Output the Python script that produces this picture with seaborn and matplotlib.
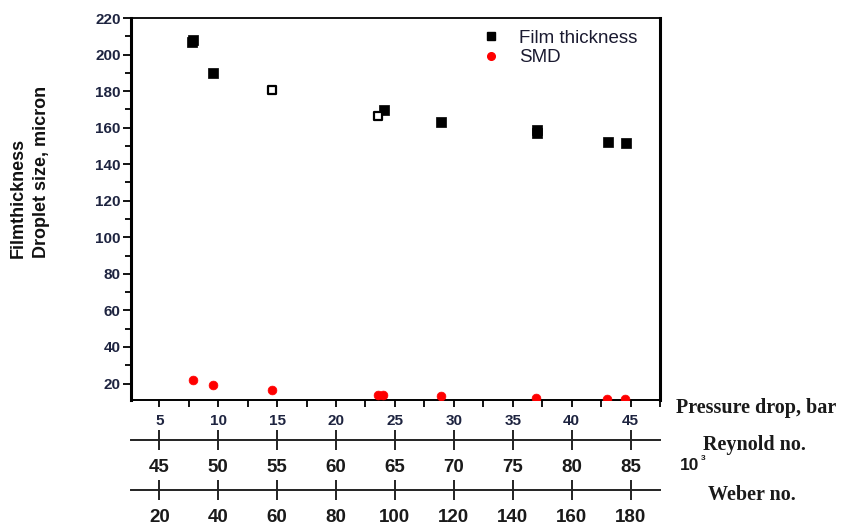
import matplotlib
matplotlib.use("Agg")
import matplotlib.pyplot as plt
from matplotlib.lines import Line2D
from matplotlib.ticker import MultipleLocator
import seaborn as sns
import pandas as pd

# ---- data ----
film_pressure = [7.8, 7.9, 9.6, 24.1, 28.9, 37.1, 37.1, 43.1, 44.6]
film_thickness = [207, 208, 190, 169.5, 163.3, 158.5, 157, 152.4, 151.7]
film_open_pressure = [14.6, 23.6]
film_open_thickness = [180.4, 166.4]
smd_pressure = [7.9, 9.6, 14.6, 23.6, 24.0, 28.9, 37.0, 43.0, 44.5]
smd_values = [22.1, 19.0, 16.7, 14.0, 14.0, 13.0, 12.1, 11.5, 11.3]

pressure_ticks = [5, 10, 15, 20, 25, 30, 35, 40, 45]
reynolds_ticks = [45, 50, 55, 60, 65, 70, 75, 80, 85]
weber_ticks = [20, 40, 60, 80, 100, 120, 140, 160, 180]
reynolds_offset = 40   # Re (x10^3) = pressure + 40
weber_factor = 4       # We = 4 * pressure
y_ticks = [20, 40, 60, 80, 100, 120, 140, 160, 180, 200, 220]

xlim = (2.6, 47.5)
ylim = (11, 220)

sns.set_theme(style="white")
plt.rcParams["font.family"] = ["Liberation Sans", "DejaVu Sans"]

W, H = 846, 527
fig = plt.figure(figsize=(W / 100, H / 100), dpi=100)

L, R, T, B = 131, 660, 18, 400
ax = fig.add_axes([L / W, 1 - B / H, (R - L) / W, (B - T) / H])

film_df = pd.DataFrame({"p": film_pressure, "t": film_thickness})
open_df = pd.DataFrame({"p": film_open_pressure, "t": film_open_thickness})
smd_df = pd.DataFrame({"p": smd_pressure, "d": smd_values})

sns.scatterplot(data=film_df, x="p", y="t", marker="s", s=46, color="black",
                edgecolor="black", linewidth=0.5, ax=ax, zorder=3)
sns.scatterplot(data=open_df, x="p", y="t", marker="s", s=40, facecolor="white",
                edgecolor="black", linewidth=1.6, ax=ax, zorder=3)
sns.scatterplot(data=smd_df, x="p", y="d", marker="o", s=40, color="#ff0000",
                edgecolor="#ff0000", linewidth=0.5, ax=ax, zorder=3)

ax.set_xlim(*xlim)
ax.set_ylim(*ylim)
ax.set_xlabel("")
ax.set_ylabel("")
ax.set_xticks(pressure_ticks)
ax.set_xticklabels([str(v) for v in pressure_ticks])
ax.xaxis.set_minor_locator(MultipleLocator(2.5))
ax.set_yticks(y_ticks)
ax.set_yticklabels([str(v) for v in y_ticks])
ax.yaxis.set_minor_locator(MultipleLocator(10))

tick_color = "#1e2440"
ax.tick_params(axis="x", which="both", direction="out", length=5, width=1.3,
               color="black", bottom=True, pad=5)
ax.tick_params(axis="x", which="major", labelsize=11, labelcolor=tick_color)
ax.tick_params(axis="y", which="major", direction="out", length=6, width=1.3,
               color="black", left=True, pad=1.5, labelsize=11, labelcolor=tick_color)
ax.tick_params(axis="y", which="minor", direction="out", length=4, width=1.3,
               color="black", left=True)
for lab in ax.get_xticklabels() + ax.get_yticklabels():
    lab.set_fontweight("bold")

for side, lw in {"left": 2.2, "right": 2.2, "top": 1.3, "bottom": 1.4}.items():
    ax.spines[side].set_visible(True)
    ax.spines[side].set_color("black")
    ax.spines[side].set_linewidth(lw)
ax.grid(False)

handles = [
    Line2D([], [], marker="s", linestyle="none", color="black", markersize=5.2),
    Line2D([], [], marker="o", linestyle="none", color="#ff0000", markersize=5.5),
]
ax.legend(handles, ["Film thickness", "SMD"], loc="upper left",
          bbox_to_anchor=(0.635, 1.014), frameon=False, fontsize=13.5,
          handlelength=0.8, handletextpad=1.1, labelspacing=0.14,
          borderpad=0.4, labelcolor="#1a1a30")


def extra_axis(y_px, lim, ticks):
    a = fig.add_axes([L / W, 1 - y_px / H, (R - L) / W, 1e-5])
    a.set_facecolor("none")
    for side in ["left", "right", "top"]:
        a.spines[side].set_visible(False)
    a.spines["bottom"].set_visible(True)
    a.spines["bottom"].set_color("#222222")
    a.spines["bottom"].set_linewidth(1.4)
    a.set_xlim(*lim)
    a.set_xticks(ticks)
    a.set_xticklabels([str(v) for v in ticks])
    a.set_yticks([])
    a.tick_params(axis="x", direction="inout", length=14, width=1.4,
                  color="#222222", bottom=True, pad=7, labelsize=13.5,
                  labelcolor="#1a1a1a")
    for lab in a.get_xticklabels():
        lab.set_fontweight("bold")
    a.grid(False)
    return a


extra_axis(440, (xlim[0] + reynolds_offset, xlim[1] + reynolds_offset), reynolds_ticks)
extra_axis(490, (xlim[0] * weber_factor, xlim[1] * weber_factor), weber_ticks)

serif = ["Liberation Serif", "DejaVu Serif"]
fig.text(676 / W, 1 - 408 / H, "Pressure drop, bar", ha="left", va="center",
         fontsize=14.5, fontweight="bold", family=serif, color="#1a1a1a")
fig.text(754 / W, 1 - 445 / H, "Reynold no.", ha="center", va="center",
         fontsize=14.5, fontweight="bold", family=serif, color="#1a1a1a")
fig.text(680 / W, 1 - 465 / H, "10", ha="left", va="center",
         fontsize=12.5, fontweight="bold", color="#1a1a1a")
fig.text(701 / W, 1 - 458 / H, "3", ha="left", va="center",
         fontsize=6, fontweight="bold", color="#1a1a1a")
fig.text(752 / W, 1 - 495 / H, "Weber no.", ha="center", va="center",
         fontsize=14.5, fontweight="bold", family=serif, color="#1a1a1a")

fig.text(18.5 / W, 1 - 258 / H, "Filmthickness", rotation=90, ha="center",
         va="bottom", fontsize=13, fontweight="bold", color="#111111")
fig.text(41 / W, 1 - 258 / H, "Droplet size, micron", rotation=90, ha="center",
         va="bottom", fontsize=13, fontweight="bold", color="#111111")

fig.savefig("out.png", dpi=100)
